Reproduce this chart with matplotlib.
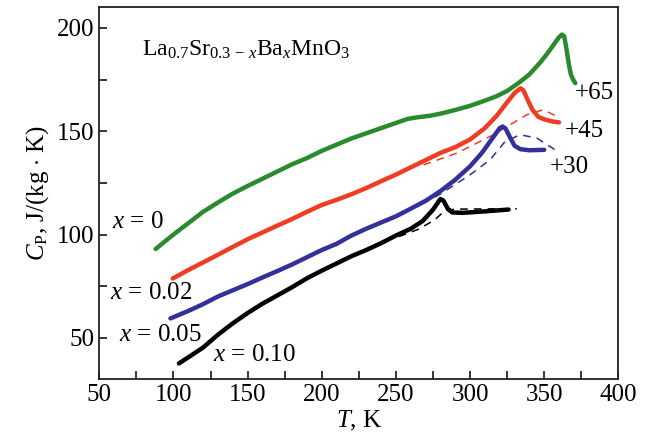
import matplotlib
matplotlib.use("Agg")
import matplotlib.pyplot as plt
from matplotlib.ticker import MultipleLocator

plt.rcParams['font.family'] = ['Liberation Serif', 'DejaVu Serif']
plt.rcParams['mathtext.fontset'] = 'custom'
plt.rcParams['mathtext.rm'] = 'Liberation Serif'
plt.rcParams['mathtext.it'] = 'Liberation Serif:italic'

# x = 0 (shifted +65)
t_x0 = [88, 100, 110, 120, 130, 140, 150, 160, 170, 180, 190, 200, 210, 220, 230, 240,
        250, 258, 265, 273, 280, 290, 300, 310, 318, 325, 333, 340, 347, 352, 356, 360,
        362, 363.5, 365, 366.5, 368, 369.5, 371]
cp_x0 = [93, 100, 105.5, 111, 115.5, 119.8, 123.5, 127, 130.5, 134, 137, 140.5, 143.5,
         146.5, 149, 151.5, 154, 156, 156.8, 157.5, 158.5, 160.3, 162.3, 164.8, 167,
         169.5, 173.5, 177.5, 183, 187.5, 191.5, 195.5, 196.8, 196, 190, 183, 177.5, 175,
         173.3]

# x = 0.02 (shifted +45)
t_x02 = [99.5, 110, 120, 130, 140, 150, 160, 170, 180, 190, 200, 210, 220, 230, 240,
         250, 260, 270, 280, 290, 300, 310, 318, 325, 330, 334, 336, 339, 342, 346, 350,
         355, 360]
cp_x02 = [78.7, 82.8, 86.5, 90.2, 94, 97.7, 101, 104.3, 107.5, 111, 114.3, 116.8, 119.5,
          122.5, 125.8, 129, 132.5, 136, 139.5, 142.3, 146, 151.5, 157.5, 164, 168.5,
          170.8, 169.8, 165, 160.5, 157, 155.8, 154.8, 154.3]
t_x02_fit = [268.7, 291.1, 315.8, 338.3, 349.5, 358.5]
cp_x02_fit = [133.7, 139.4, 148.3, 158.0, 160.4, 157.2]

# x = 0.05 (shifted +30)
t_x05 = [98, 110, 120, 130, 140, 150, 160, 170, 180, 190, 200, 210, 220, 230, 240, 250,
         260, 270, 280, 290, 300, 308, 315, 320, 322, 324, 327, 330, 334, 340, 350]
cp_x05 = [59.4, 63, 66.3, 70, 73, 76, 79.2, 82.3, 85.5, 89, 92.5, 95.5, 99.5, 102.8,
          105.8, 108.8, 112.5, 116.3, 121, 126.5, 133, 139.5, 146.5, 151.5, 152.3, 151.3,
          147, 143, 141.3, 140.8, 141]
t_x05_fit = [268.0, 279.8, 300.0, 313.5, 323.6, 333.7, 345.0, 357.4]
cp_x05_fit = [115.0, 119.5, 128.9, 136.2, 145.0, 148.3, 146.7, 141.0]

# x = 0.10
t_x10 = [103.7, 112, 120, 130, 140, 150, 160, 170, 180, 190, 200, 210, 220, 230, 240,
         250, 260, 268, 275, 280, 282, 285, 288, 295, 310, 326]
cp_x10 = [37.6, 41.5, 45.3, 51.5, 57, 62, 66.5, 70.5, 74.5, 78.8, 82.5, 86, 89.5, 92.5,
          95.8, 99.5, 102.8, 106.5, 112, 117.2, 116.5, 112.5, 110.7, 110.5, 111.2, 112.1]
t_x10_fit = [252.0, 265.0, 276.0, 283.0, 290.0, 310.0, 331.5]
cp_x10_fit = [99.0, 102.5, 107.0, 111.5, 112.3, 112.4, 112.5]

fig = plt.figure(figsize=(6.51, 4.45), dpi=100)
ax = fig.add_axes([0.1525, 0.148, 0.7973, 0.8356])

green = '#2a8a2e'
red = '#f03c22'
blue = '#34309a'

for t, cp, c in [(t_x02_fit, cp_x02_fit, red), (t_x05_fit, cp_x05_fit, blue),
                 (t_x10_fit, cp_x10_fit, 'black')]:
    ax.plot(t, cp, color=c, lw=1.1, dashes=(5, 4))

for t, cp, c in [(t_x0, cp_x0, green), (t_x02, cp_x02, red),
                 (t_x05, cp_x05, blue), (t_x10, cp_x10, 'black')]:
    ax.plot(t, cp, '-', color=c, lw=3.2, solid_capstyle='round', solid_joinstyle='round')

ax.set_xlim(50, 400)
ax.set_ylim(30, 210)
ax.xaxis.set_major_locator(MultipleLocator(50))
ax.xaxis.set_minor_locator(MultipleLocator(25))
ax.yaxis.set_major_locator(MultipleLocator(50))
ax.yaxis.set_minor_locator(MultipleLocator(25))
ax.tick_params(which='both', direction='in', length=6, width=1.1, labelsize=18,
               top=False, right=False)
for s in ax.spines.values():
    s.set_linewidth(1.3)
    s.set_color('#222222')

ax.set_xlabel(r'$T$, K', fontsize=18, labelpad=2)
ax.set_ylabel(r'$C_\mathrm{P}$, J/(kg $\cdot$ K)', fontsize=18, labelpad=4)

ax.text(78.6, 189.5, r'La$_{0.7}$Sr$_{0.3\,-\,x}$Ba$_x$MnO$_3$', fontsize=17,
        va='center', ha='left')
ax.text(58.9, 106.3, r'$x$ = 0', fontsize=18, va='center', ha='left')
ax.text(57.5, 71.5, r'$x$ = 0.02', fontsize=18, va='center', ha='left')
ax.text(63.1, 51.3, r'$x$ = 0.05', fontsize=18, va='center', ha='left')
ax.text(126.4, 41.7, r'$x$ = 0.10', fontsize=18, va='center', ha='left')
ax.text(370.9, 168.5, '+65', fontsize=18, va='center', ha='left')
ax.text(363.8, 149.9, '+45', fontsize=18, va='center', ha='left')
ax.text(354.0, 132.9, '+30', fontsize=18, va='center', ha='left')

fig.savefig('out.png', dpi=100)
